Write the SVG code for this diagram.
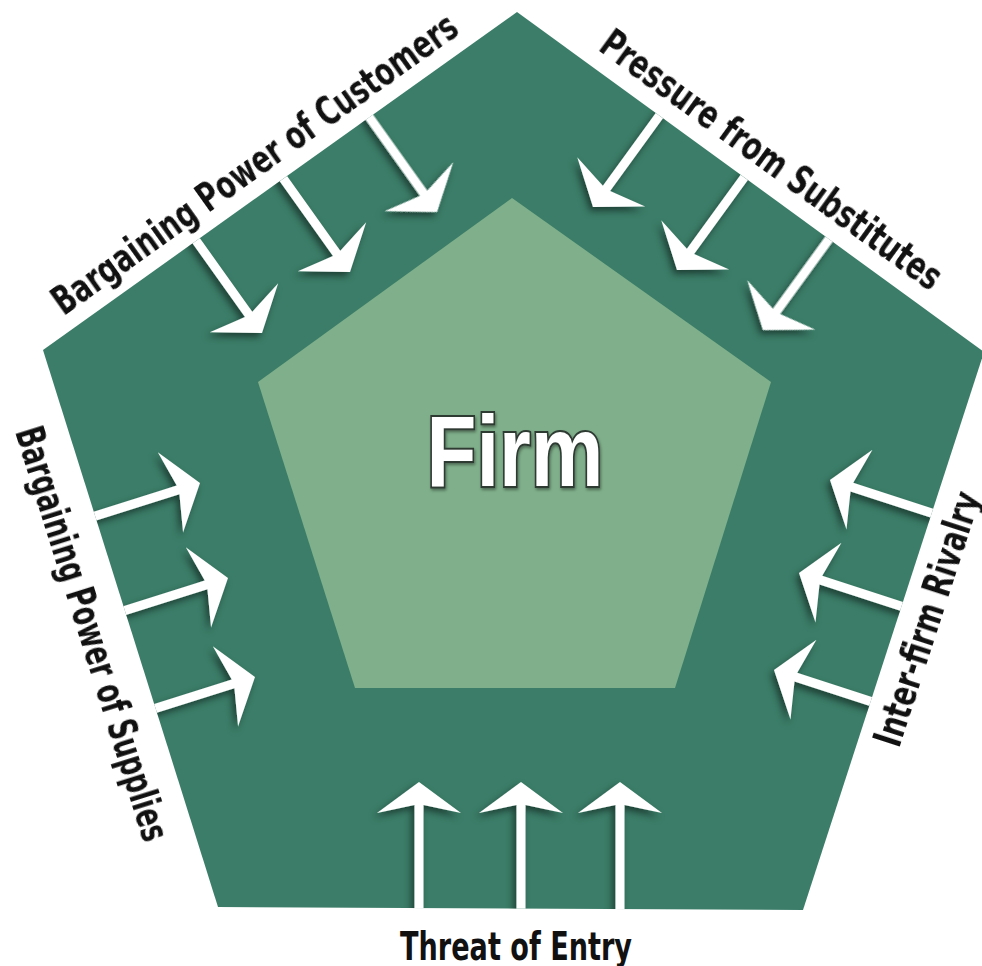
<svg xmlns="http://www.w3.org/2000/svg" width="982" height="966" viewBox="0 0 982 966">
  <style>
    .outer { fill: #3b7d68; }
    .inner { fill: #80b08b; }
    .arrow { fill: #ffffff; }
    .lbl { font-family: "Liberation Sans Narrow", "DejaVu Sans Condensed", "Liberation Sans", sans-serif; font-stretch: condensed; font-weight: bold; font-size: 39px; fill: #111111; text-anchor: middle; }
    .firm { font-family: "Liberation Sans", "DejaVu Sans", sans-serif; font-weight: bold; font-size: 100px; fill: #ffffff; stroke: #2e3a33; stroke-width: 4; paint-order: stroke; text-anchor: middle; }
  </style>
  <defs>
    <clipPath id="outerClip">
      <polygon points="517,12 984,352 803,910 218,907 43,350"/>
    </clipPath>
    <filter id="sh" x="-30%" y="-30%" width="160%" height="160%">
      <feDropShadow dx="-3" dy="4" stdDeviation="3.5" flood-color="#000000" flood-opacity="0.5"/>
    </filter>
    <filter id="tsh" x="-10%" y="-10%" width="120%" height="120%">
      <feDropShadow dx="1" dy="2" stdDeviation="1.5" flood-color="#000000" flood-opacity="0.4"/>
    </filter>
    <path id="arw" d="M0,0 L42,31 L4.5,23 L4.5,150 L-4.5,150 L-4.5,23 L-42,31 Z"/>
  </defs>

  <g id="outer-pentagon">
    <polygon class="outer" points="517,12 984,352 803,910 218,907 43,350"/>
  </g>

  <g id="firm">
    <polygon class="inner" points="512,198 771,382 675,688 355,688 258,382"/>
    <text class="firm" x="515" y="486" textLength="177" lengthAdjust="spacingAndGlyphs" filter="url(#tsh)">Firm</text>
  </g>

  <g id="connectors" clip-path="url(#outerClip)">
    <g filter="url(#sh)">
      <use href="#arw" class="arrow" transform="translate(262,333) rotate(144.5)"/>
      <use href="#arw" class="arrow" transform="translate(350,272) rotate(144.5)"/>
      <use href="#arw" class="arrow" transform="translate(437,212) rotate(144.5)"/>
      <use href="#arw" class="arrow" transform="translate(593,207) rotate(-144)"/>
      <use href="#arw" class="arrow" transform="translate(677,270) rotate(-144)"/>
      <use href="#arw" class="arrow" transform="translate(763,330) rotate(-144)"/>
      <use href="#arw" class="arrow" transform="translate(200,483) rotate(72.5)"/>
      <use href="#arw" class="arrow" transform="translate(228,578) rotate(72.5)"/>
      <use href="#arw" class="arrow" transform="translate(255,677) rotate(72.5)"/>
      <use href="#arw" class="arrow" transform="translate(830,480) rotate(-72)"/>
      <use href="#arw" class="arrow" transform="translate(799,573) rotate(-72)"/>
      <use href="#arw" class="arrow" transform="translate(774,670) rotate(-72)"/>
      <use href="#arw" class="arrow" transform="translate(419,782)"/>
      <use href="#arw" class="arrow" transform="translate(521,782)"/>
      <use href="#arw" class="arrow" transform="translate(620,782)"/>
    </g>
  </g>

  <g id="label-customers">
    <text class="lbl" transform="translate(262.3,174.6) rotate(-35.5)" textLength="488" lengthAdjust="spacingAndGlyphs">Bargaining Power of Customers</text>
  </g>
  <g id="label-substitutes">
    <text class="lbl" transform="translate(763.8,170.6) rotate(36)" textLength="412" lengthAdjust="spacingAndGlyphs">Pressure from Substitutes</text>
  </g>
  <g id="label-supplies">
    <text class="lbl" transform="translate(79.5,637.8) rotate(72.6)" textLength="432" lengthAdjust="spacingAndGlyphs">Bargaining Power of Supplies</text>
  </g>
  <g id="label-rivalry">
    <text class="lbl" transform="translate(939.9,622.9) rotate(-72)" textLength="265" lengthAdjust="spacingAndGlyphs">Inter-firm Rivalry</text>
  </g>
  <g id="label-entry">
    <text class="lbl" x="516" y="960" textLength="232" lengthAdjust="spacingAndGlyphs">Threat of Entry</text>
  </g>
</svg>
